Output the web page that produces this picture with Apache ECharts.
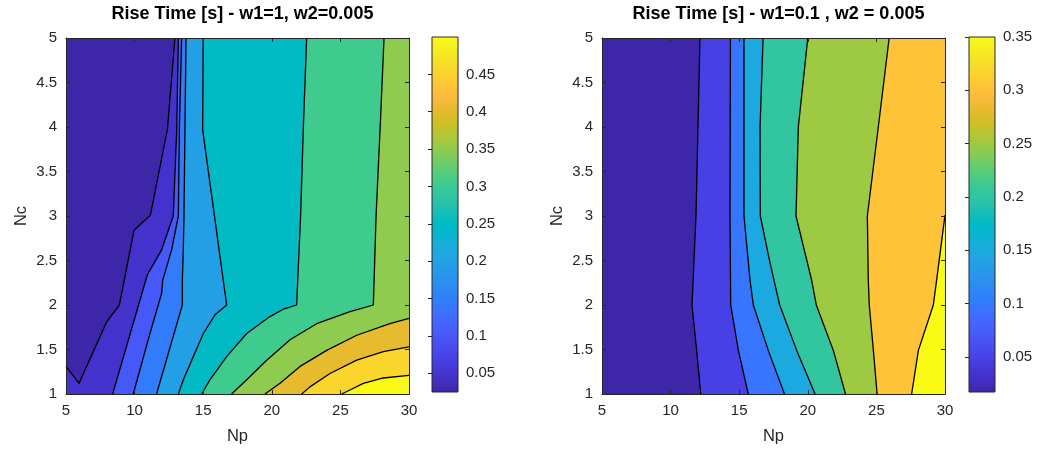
<!DOCTYPE html>
<html><head><meta charset="utf-8">
<script src="https://cdn.jsdelivr.net/npm/echarts@6/dist/echarts.min.js"></script>
<style>html,body{margin:0;padding:0;background:#fff}#c{width:1037px;height:457px}</style>
</head><body><div id="c"></div>
<script>
// ---------------- data ----------------
const npRange = [5, 30];
const ncRange = [1, 5];
const leftTitle = 'Rise Time [s] - w1=1, w2=0.005';
const rightTitle = 'Rise Time [s] - w1=0.1 , w2 = 0.005';
const xName = 'Np';
const yName = 'Nc';
const leftRange = [0.025, 0.5];     // colour limits (data min / max)
const rightRange = [0.017, 0.35];
const leftLevels = [0.05, 0.1, 0.15, 0.2, 0.25, 0.3, 0.35, 0.4, 0.45, 0.5];
const rightLevels = [0.05, 0.1, 0.15, 0.2, 0.25, 0.3, 0.35];
const leftBarTicks = [0.05, 0.1, 0.15, 0.2, 0.25, 0.3, 0.35, 0.4, 0.45];
const rightBarTicks = [0.05, 0.1, 0.15, 0.2, 0.25, 0.3, 0.35];
// contour lines, [Np, Nc] points, one per level
const leftContours = [
  [[12.94,5],[12.39,3.97],[11.15,3.01],[9.96,2.84],[8.89,2.0],[7.96,1.81],[5.95,1.12],[5,1.31]],
  [[13.19,5],[13.07,3.97],[12.82,3.0],[11.97,2.62],[10.93,2.34],[8.4,1]],
  [[13.43,5],[13.26,3.97],[13.19,3.0],[12.7,2.62],[12.05,2.28],[11.97,2.13],[11.12,1.68],[9.9,1]],
  [[13.75,5],[13.67,3.97],[13.6,3.0],[13.55,2.62],[13.48,2.28],[13.48,2.0],[11.6,1]],
  [[15.0,5],[14.96,3.97],[16.71,2.0],[15.86,1.89],[15.01,1.68],[14.28,1.42],[13.55,1.16],[13.19,1]],
  [[22.54,5],[22.3,4.0],[22.1,3.0],[21.81,2.0],[20.8,1.95],[19.87,1.87],[18.17,1.68],[16.71,1.42],[15.49,1.16],[14.89,1]],
  [[28.18,5],[27.9,4.0],[27.6,3.0],[27.4,2.0],[25.7,1.925],[23.27,1.79],[21.33,1.61],[19.63,1.38],[18.17,1.16],[17.07,1]],
  [[30,1.85],[28.61,1.79],[26.19,1.66],[24.0,1.49],[22.06,1.31],[20.6,1.12],[19.5,1]],
  [[30,1.53],[28.13,1.475],[26.19,1.38],[24.24,1.23],[22.78,1.08],[22.18,1]],
  [[30,1.21],[28.13,1.18],[26.67,1.12],[25.7,1.045],[25.09,1]]
];
const rightContours = [
  [[12.14,5],[11.85,3.0],[11.56,2.0],[11.9,1.49],[12.2,1]],
  [[14.36,5],[14.33,3.0],[14.38,2.0],[14.94,1.49],[15.66,1]],
  [[15.35,5],[15.35,3.0],[15.79,2.28],[16.03,2.0],[17.12,1.49],[18.3,1]],
  [[16.74,5],[16.52,4.0],[16.54,3.0],[17.25,2.47],[17.95,2.0],[19.19,1.49],[20.53,1]],
  [[20.0,5],[19.31,4.0],[19.14,3.0],[20.28,2.28],[20.62,2.0],[21.86,1.49],[22.75,1]],
  [[25.93,5],[25.14,4.0],[24.34,3.0],[24.41,2.28],[24.48,2.0],[24.78,1.49],[25.05,1]],
  [[30,3.01],[29.39,2.28],[29.15,2.0],[28.06,1.49],[27.57,1]]
];

// ---------------- colormap (MATLAB parula, 64) ----------------
const parula = [
[0.2422,0.1504,0.6603],[0.2504,0.1650,0.7076],[0.2578,0.1818,0.7511],[0.2647,0.1978,0.7952],
[0.2706,0.2147,0.8364],[0.2751,0.2342,0.8710],[0.2783,0.2559,0.8991],[0.2803,0.2782,0.9221],
[0.2813,0.3006,0.9414],[0.2810,0.3228,0.9579],[0.2795,0.3447,0.9717],[0.2760,0.3667,0.9829],
[0.2699,0.3892,0.9906],[0.2602,0.4123,0.9952],[0.2440,0.4358,0.9988],[0.2206,0.4603,0.9973],
[0.1963,0.4847,0.9892],[0.1834,0.5074,0.9798],[0.1786,0.5289,0.9682],[0.1764,0.5499,0.9520],
[0.1687,0.5703,0.9359],[0.1540,0.5902,0.9218],[0.1460,0.6091,0.9079],[0.1380,0.6276,0.8973],
[0.1248,0.6459,0.8883],[0.1113,0.6635,0.8763],[0.0952,0.6798,0.8598],[0.0689,0.6948,0.8394],
[0.0297,0.7082,0.8163],[0.0036,0.7203,0.7917],[0.0067,0.7312,0.7660],[0.0433,0.7411,0.7394],
[0.0964,0.7500,0.7120],[0.1408,0.7584,0.6842],[0.1717,0.7670,0.6554],[0.1938,0.7758,0.6251],
[0.2161,0.7843,0.5923],[0.2470,0.7918,0.5567],[0.2906,0.7973,0.5188],[0.3406,0.8008,0.4789],
[0.3909,0.8029,0.4354],[0.4456,0.8024,0.3909],[0.5044,0.7993,0.3480],[0.5616,0.7942,0.3045],
[0.6174,0.7876,0.2612],[0.6720,0.7793,0.2227],[0.7242,0.7698,0.1910],[0.7738,0.7598,0.1646],
[0.8203,0.7498,0.1535],[0.8634,0.7406,0.1596],[0.9035,0.7330,0.1774],[0.9393,0.7288,0.2100],
[0.9728,0.7298,0.2394],[0.9956,0.7434,0.2371],[0.9970,0.7659,0.2199],[0.9952,0.7893,0.2028],
[0.9892,0.8136,0.1885],[0.9786,0.8386,0.1766],[0.9676,0.8639,0.1643],[0.9610,0.8890,0.1537],
[0.9597,0.9135,0.1423],[0.9628,0.9373,0.1265],[0.9691,0.9606,0.1064],[0.9769,0.9839,0.0805]];
function rgb(c){return 'rgb('+Math.round(c[0]*255)+','+Math.round(c[1]*255)+','+Math.round(c[2]*255)+')';}
function cmap(v, r){
  let k = Math.floor((v - r[0]) / (r[1] - r[0]) * 64);
  k = Math.max(0, Math.min(63, k));
  return rgb(parula[k]);
}

// ---------------- helpers ----------------
const FONT = 'Liberation Sans, Arial, Helvetica, sans-serif';
const INK = '#262626';
const B = {x0: npRange[0], x1: npRange[1], y0: ncRange[0], y1: ncRange[1]};
const CORNERS = [[B.x0,B.y0],[B.x1,B.y0],[B.x1,B.y1],[B.x0,B.y1]];
function perim(p){
  const e = 1e-6, W = B.x1-B.x0, H = B.y1-B.y0;
  if (Math.abs(p[1]-B.y0) < e) return (p[0]-B.x0)/W;
  if (Math.abs(p[0]-B.x1) < e) return 1 + (p[1]-B.y0)/H;
  if (Math.abs(p[1]-B.y1) < e) return 2 + (B.x1-p[0])/W;
  return 3 + (B.y1-p[1])/H;
}
// super-level region: contour + plot boundary walked counter-clockwise
function closePoly(line){
  const pts = line.slice();
  let tS = perim(line[0]); const tE = perim(line[line.length-1]);
  if (tS <= tE) tS += 4;
  for (let k = Math.floor(tE) + 1; k < tS; k++) pts.push(CORNERS[k % 4]);
  return pts;
}
function fillSeries(gi, contours, levels, range){
  const data = [[-1]].concat(levels.map((v, i) => [i]));
  return {
    type: 'custom', xAxisIndex: 2*gi, yAxisIndex: 2*gi, silent: true, z: 2,
    data: data,
    renderItem: function(params, api){
      const i = api.value(0);
      const poly = i < 0 ? CORNERS : closePoly(contours[i]);
      const lv = i < 0 ? range[0] : levels[i];
      return {type: 'polygon', shape: {points: poly.map(p => api.coord(p))},
              style: {fill: cmap(lv, range), stroke: null}};
    }
  };
}
function lineSeries(gi, contours){
  return {
    type: 'custom', xAxisIndex: 2*gi, yAxisIndex: 2*gi, silent: true, z: 3,
    data: contours.map((c, i) => [i]),
    renderItem: function(params, api){
      const c = contours[api.value(0)];
      return {type: 'polyline', shape: {points: c.map(p => api.coord(p))},
              style: {stroke: '#000', lineWidth: 1.3, fill: null, lineJoin: 'round'}};
    }
  };
}
function barSeries(ai, range){
  const stops = parula.map((c, i) => ({offset: i/63, color: rgb(c)}));
  return {
    type: 'custom', xAxisIndex: ai, yAxisIndex: ai, silent: true, z: 2,
    data: [[0]],
    renderItem: function(params, api){
      const p0 = api.coord([0, range[1]]), p1 = api.coord([1, range[0]]);
      return {type: 'rect', shape: {x: p0[0], y: p0[1], width: p1[0]-p0[0], height: p1[1]-p0[1]},
              style: {fill: new echarts.graphic.LinearGradient(0, 1, 0, 0, stops), stroke: INK, lineWidth: 1}};
    }
  };
}
function xAx(gi, pos, labels){
  return {type: 'value', gridIndex: gi, position: pos, min: npRange[0], max: npRange[1], interval: 5, z: 10,
    name: labels ? xName : '', nameLocation: 'middle', nameGap: 34,
    nameTextStyle: {fontFamily: FONT, fontSize: 16.5, color: INK},
    axisLine: {show: true, onZero: false, lineStyle: {color: INK, width: 1}},
    axisTick: {show: true, inside: true, length: 4, lineStyle: {color: INK}},
    axisLabel: {show: labels, margin: 9, fontFamily: FONT, fontSize: 15, color: INK},
    splitLine: {show: false}};
}
function yAx(gi, pos, labels){
  return {type: 'value', gridIndex: gi, position: pos, min: ncRange[0], max: ncRange[1], interval: 0.5, z: 10,
    name: labels ? yName : '', nameLocation: 'middle', nameGap: 36,
    nameTextStyle: {fontFamily: FONT, fontSize: 16.5, color: INK},
    axisLine: {show: true, onZero: false, lineStyle: {color: INK, width: 1}},
    axisTick: {show: true, inside: true, length: 4, lineStyle: {color: INK}},
    axisLabel: {show: labels, margin: 9, fontFamily: FONT, fontSize: 15, color: INK},
    splitLine: {show: false}};
}
function barX(gi){
  return {type: 'value', gridIndex: gi, min: 0, max: 1, show: false};
}
function barY(gi, range, ticks){
  return {type: 'value', gridIndex: gi, position: 'right', min: range[0], max: range[1], z: 10,
    axisLine: {show: false},
    axisTick: {show: true, inside: true, length: 4, customValues: ticks, lineStyle: {color: INK}},
    axisLabel: {show: true, customValues: ticks, margin: 8, fontFamily: FONT, fontSize: 15, color: INK},
    splitLine: {show: false}};
}

const option = {
  animation: false,
  backgroundColor: '#fff',
  title: [
    {text: leftTitle, left: 237.5, top: 0, textAlign: 'center',
     textStyle: {fontFamily: FONT, fontSize: 18, fontWeight: 'bold', color: '#000'}},
    {text: rightTitle, left: 773.5, top: 0, textAlign: 'center',
     textStyle: {fontFamily: FONT, fontSize: 18, fontWeight: 'bold', color: '#000'}}
  ],
  grid: [
    {left: 66, top: 38, width: 343, height: 356},
    {left: 602, top: 38, width: 343, height: 356},
    {left: 432, top: 37, width: 26, height: 355},
    {left: 969, top: 37, width: 26, height: 355}
  ],
  xAxis: [xAx(0,'bottom',true), xAx(0,'top',false), xAx(1,'bottom',true), xAx(1,'top',false), barX(2), barX(3)],
  yAxis: [yAx(0,'left',true), yAx(0,'right',false), yAx(1,'left',true), yAx(1,'right',false),
          barY(2, leftRange, leftBarTicks), barY(3, rightRange, rightBarTicks)],
  series: [
    fillSeries(0, leftContours, leftLevels, leftRange),
    lineSeries(0, leftContours),
    fillSeries(1, rightContours, rightLevels, rightRange),
    lineSeries(1, rightContours),
    barSeries(4, leftRange),
    barSeries(5, rightRange)
  ]
};
const chart = echarts.init(document.getElementById('c'), null, {renderer: 'canvas'});
chart.setOption(option);
</script></body></html>
